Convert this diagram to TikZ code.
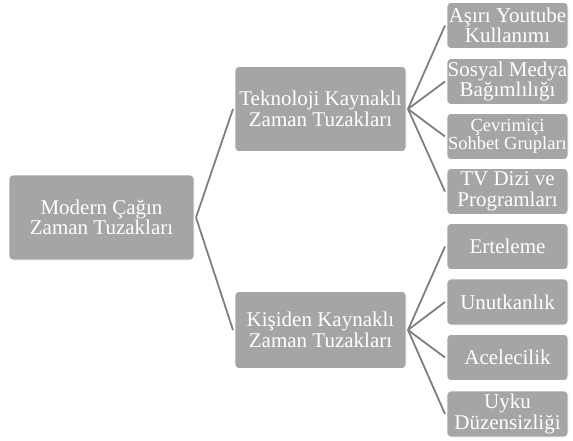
\documentclass[tikz,border=0pt]{standalone}
\usepackage{fontspec}
\setmainfont{Liberation Serif}
\newfontfamily\boxfont{Liberation Serif}
\usepackage{tikz}
\definecolor{boxgray}{HTML}{A5A5A5}
\definecolor{linegray}{HTML}{7F7F7F}

\begin{document}
\begin{tikzpicture}[x=1pt, y=-1pt]
    \tikzstyle{box} = [rectangle, rounded corners=4pt, fill=boxgray, draw=white, line width=0.6pt, text=white, align=center, inner sep=0pt, outer sep=2pt, font=\boxfont\fontsize{21}{20.5}\selectfont]
    \tikzstyle{mid} = [box, minimum width=171pt]
    \tikzstyle{leaf} = [box, minimum width=121pt, minimum height=46pt]
    \tikzstyle{conn} = [draw=linegray, line width=1.8pt]

    \useasboundingbox (0,0) rectangle (573,441);

    \node[box, minimum width=185pt, minimum height=85pt] (root) at (101.5, 217.5) {Modern Çağın\\Zaman Tuzakları};
    \node[mid, minimum height=85pt] (tek) at (320.5, 109) {Teknoloji Kaynaklı\\Zaman Tuzakları};
    \node[mid, minimum height=77pt] (kisi) at (320.5, 330) {Kişiden Kaynaklı\\Zaman Tuzakları};

    \node[leaf] (youtube) at (507.5, 25.5) {Aşırı Youtube\\Kullanımı};
    \node[leaf] (sosyal) at (507.5, 81.5) {Sosyal Medya\\Bağımlılığı};
    \node[leaf, font=\boxfont\fontsize{18.5}{16.5}\selectfont] (sohbet) at (507.5, 136.5) {Çevrimiçi\\Sohbet Grupları};
    \node[leaf] (tv) at (507.5, 191.5) {TV Dizi ve\\Programları};
    \node[leaf] (erteleme) at (507.5, 246.5) {Erteleme};
    \node[leaf] (unutkan) at (507.5, 302) {Unutkanlık};
    \node[leaf] (acele) at (507.5, 357.5) {Acelecilik};
    \node[leaf] (uyku) at (507.5, 414) {Uyku\\Düzensizliği};

    \foreach \from/\to in {root/tek, root/kisi, tek/youtube, tek/sosyal, tek/sohbet, tek/tv, kisi/erteleme, kisi/unutkan, kisi/acele, kisi/uyku}
    \draw [conn] (\from.east) -- (\to.west);
\end{tikzpicture}
\end{document}
